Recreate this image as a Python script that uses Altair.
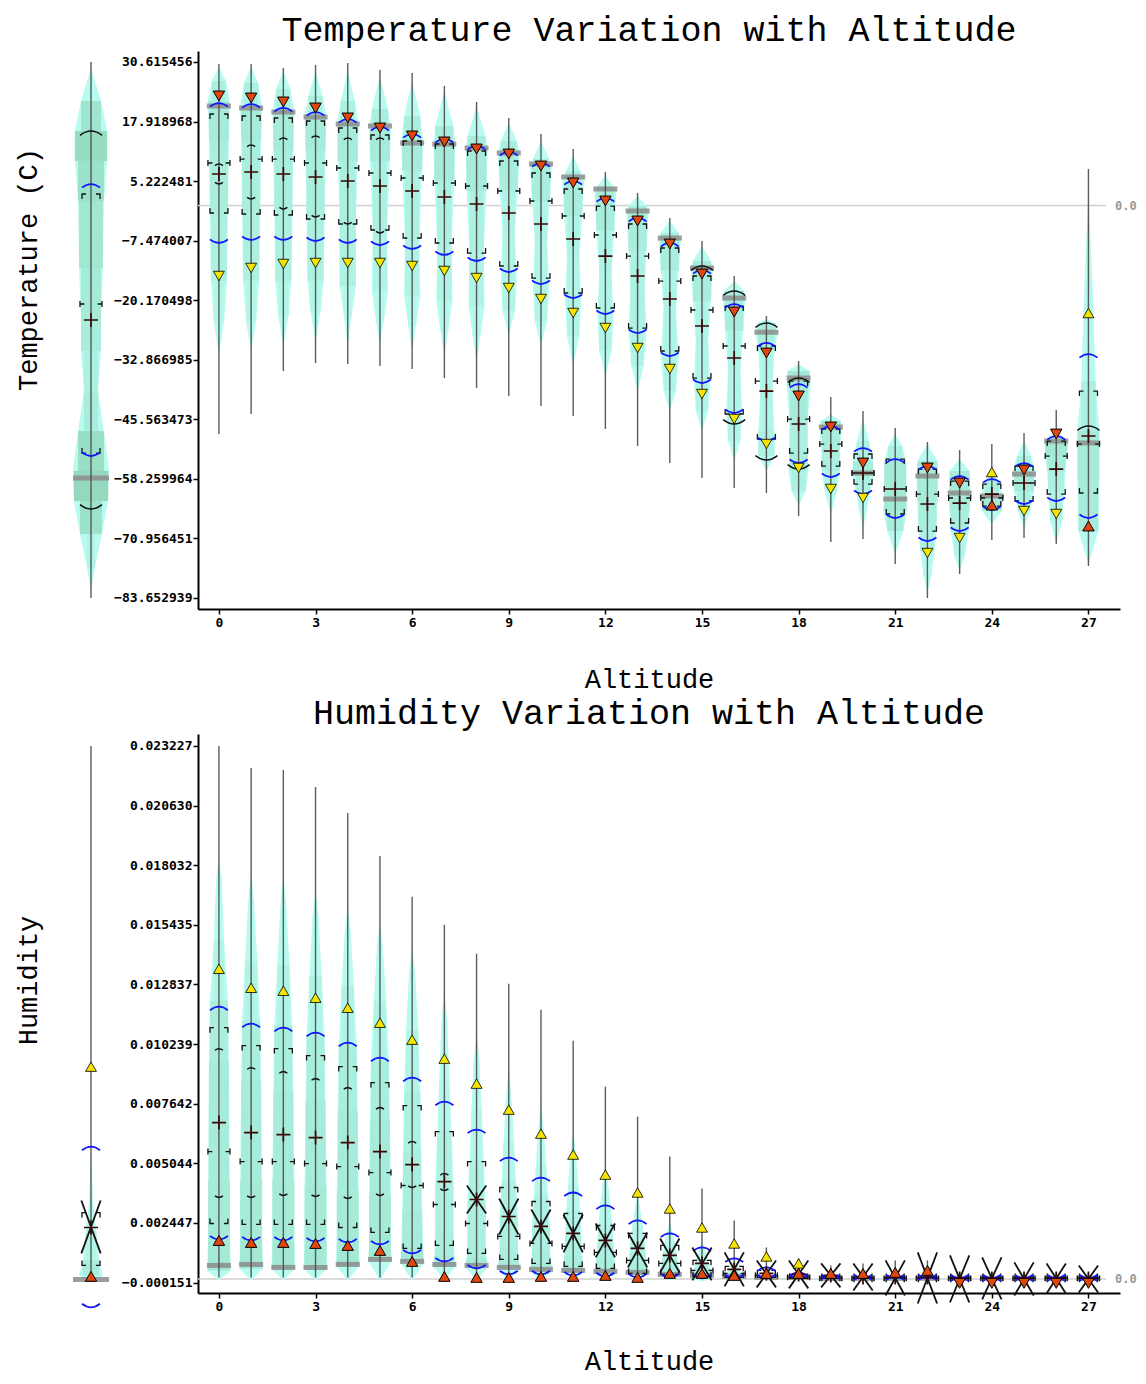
import altair as alt
import pandas as pd

ALTITUDE = list(range(28))
X_TICKS = [0, 3, 6, 9, 12, 15, 18, 21, 24, 27]
T_TICKS = [-83.652939, -70.956451, -58.259964, -45.563473, -32.866985,
           -20.170498, -7.474007, 5.222481, 17.918968, 30.615456]
H_TICKS = [-0.000151, 0.002447, 0.005044, 0.007642, 0.010239,
           0.012837, 0.015435, 0.018032, 0.020630, 0.023227]

# ---------------- Temperature (per altitude) ----------------
T_MAX = [30.19, 30.19, 29.34, 29.97, 30.40, 28.91, 28.27, 25.50, 22.09, 18.68,
         15.26, 12.07, 7.16, 2.69, -2.64, -7.55, -15.01, -23.54, -33.13, -40.81,
         -43.79, -47.42, -50.40, -52.11, -50.83, -48.48, -43.58, 7.80]
T_MIN = [-48.70, -44.43, -35.26, -33.56, -33.77, -34.20, -34.84, -36.76, -38.89, -40.59,
         -42.73, -44.86, -47.63, -51.25, -54.88, -58.08, -60.21, -61.27, -66.18, -71.72,
         -71.08, -76.41, -83.66, -78.54, -71.29, -70.87, -72.15, -76.84]
T_MODE = [21.23, 20.81, 19.95, 18.89, 17.40, 16.97, 13.35, 13.13, 12.28, 11.21,
          8.87, 6.10, 3.54, -1.15, -6.91, -13.30, -19.70, -27.00, -36.76, -47.20,
          -57.01, -62.55, -57.65, -61.27, -61.91, -57.22, -50.19, -50.61]
T_ORANGE = [23.37, 22.94, 22.09, 20.81, 18.68, 16.54, 14.84, 13.56, 12.07, 11.00,
            8.44, 4.82, 0.98, -3.28, -8.19, -14.58, -22.69, -31.43, -40.59, -47.20,
            -54.88, None, -55.94, -59.14, -63.83, -56.37, -48.70, -68.31]
T_ODIR = ["down", "down", "down", "down", "down", "down", "down", "down", "down", "down",
          "down", "down", "down", "down", "down", "down", "down", "down", "down", "down",
          "down", "down", "down", "down", "up", "down", "down", "up"]
T_YELLOW = [-15.01, -13.30, -12.45, -12.24, -12.24, -12.24, -12.88, -13.94, -15.44, -17.57,
            -19.91, -22.90, -26.10, -30.36, -34.84, -40.17, -45.50, -50.83, -55.94, -60.42,
            -62.34, None, -74.07, -70.87, -56.80, -65.11, -65.75, -22.90]
T_YDIR = T_ODIR
T_BLUE_HI = [21.87, 21.66, 20.81, 19.95, 18.46, 16.76, 15.26, 14.20, 12.71, 11.43,
             9.08, 5.24, 1.62, -2.64, -7.97, -13.73, -20.98, -29.29, -38.04, -46.99,
             -51.68, -54.03, -55.52, -57.65, -58.29, -54.88, -49.12, -31.64]
T_BLUE_LO = [-7.97, -7.33, -7.33, -7.55, -7.97, -8.40, -9.25, -10.53, -11.81, -14.16,
             -16.72, -19.70, -23.11, -27.16, -32.07, -37.82, -44.22, -50.19, -54.88, -57.86,
             -61.49, -66.60, -71.51, -69.38, -64.90, -63.62, -62.98, -66.60]
T_Q3 = [19.53, 19.10, 18.68, 18.04, 16.54, 15.05, 13.77, 13.13, 11.64, 9.51,
        6.95, 3.54, -0.09, -3.92, -9.04, -15.01, -21.41, -29.93, -37.40, -47.63,
        -52.96, -54.03, -56.16, -58.72, -59.36, -55.52, -50.19, -39.53]
T_Q1 = [-1.58, -1.79, -2.00, -2.86, -3.92, -5.20, -6.91, -7.97, -10.11, -12.88,
        -15.44, -18.63, -21.83, -26.10, -31.00, -36.76, -44.43, -49.76, -52.75, -55.52,
        -59.36, -65.75, -69.38, -67.67, -64.05, -62.98, -61.49, -61.27]
T_TEE = [9.08, 9.93, 9.93, 9.08, 8.02, 6.95, 5.88, 4.82, 4.18, 3.11,
         0.98, -2.22, -6.27, -10.75, -16.08, -22.26, -29.93, -37.40, -45.50, -50.83,
         -57.01, -60.42, -61.49, -62.34, -62.34, -59.14, -53.39, -50.83]
T_MED = [6.74, 7.16, 6.74, 6.10, 5.24, 4.18, 3.11, 1.83, 0.34, -1.58,
         -3.92, -7.12, -10.75, -15.01, -19.91, -25.67, -32.49, -39.53, -46.56, -52.32,
         -57.01, -60.42, -63.62, -63.41, -61.49, -59.14, -56.16, -49.12]
T_ARC_HI = [8.87, 12.92, 14.41, 14.84, 14.41, 14.41, None, None, None, None,
            None, None, None, None, None, -12.88, -18.21, -25.03, -36.76, None,
            None, None, None, None, None, None, None, -46.99]
T_ARC_LO = [4.60, 1.41, -0.73, -2.43, -3.92, -5.84, None, None, None, None,
            None, None, None, None, None, None, -46.56, -54.24, -56.16, None,
            None, None, None, None, None, None, None, None]
T_NOTCH_HI = [None, None, None, None, None, None, None, None, None, None,
              None, None, None, None, None, None, None, None, None, None,
              None, None, None, None, None, None, None, None]
T_NOTCH_LO = [None, None, None, None, None, None, None, None, None, None,
              None, None, None, None, None, None, None, None, None, None,
              None, None, None, None, None, None, None, None]
# violin outline knots: (temperature, half width in altitude units)
T_SHAPES = [
    [(29.55, 0), (26.56, .22), (22.30, .34), (13.77, .31), (-1.15, .28), (-16.08, .25), (-24.60, .16), (-32.07, 0)],
    [(29.55, 0), (26.14, .22), (21.23, .34), (13.77, .31), (-1.15, .28), (-16.08, .25), (-24.60, .16), (-31.00, 0)],
    [(28.70, 0), (24.86, .22), (20.17, .34), (11.64, .31), (-1.15, .28), (-16.08, .25), (-23.54, .16), (-29.93, 0)],
    [(28.70, 0), (23.37, .22), (19.10, .34), (11.64, .31), (-2.22, .28), (-16.08, .25), (-22.47, .16), (-28.87, 0)],
    [(28.70, 0), (22.30, .22), (17.40, .34), (9.51, .31), (-3.28, .25), (-17.14, .25), (-23.54, .12), (-29.93, 0)],
    [(27.63, 0), (20.59, .25), (16.54, .34), (9.51, .31), (-5.42, .22), (-18.21, .25), (-24.60, .12), (-29.93, 0)],
    [(26.56, 0), (19.10, .25), (13.77, .34), (7.38, .31), (-7.55, .22), (-19.27, .25), (-25.67, .12), (-31.00, 0)],
    [(24.43, 0), (16.97, .28), (13.13, .34), (5.24, .31), (-8.61, .22), (-20.34, .25), (-26.74, .12), (-32.07, 0)],
    [(21.23, 0), (14.84, .28), (12.07, .34), (3.11, .31), (-9.68, .22), (-21.41, .25), (-27.80, .12), (-33.13, 0)],
    [(17.61, 0), (13.77, .25), (11.21, .34), (3.11, .28), (-5.42, .19), (-16.08, .25), (-22.47, .19), (-27.80, 0)],
    [(13.77, 0), (9.93, .25), (8.44, .34), (0.98, .28), (-7.55, .19), (-18.21, .25), (-24.60, .19), (-29.93, 0)],
    [(10.57, 0), (7.38, .22), (5.24, .34), (-2.22, .28), (-10.75, .19), (-20.34, .25), (-27.80, .19), (-34.20, 0)],
    [(6.31, 0), (4.18, .25), (3.11, .34), (-5.42, .28), (-13.94, .19), (-23.54, .25), (-31.00, .19), (-36.33, 0)],
    [(2.05, 0), (-0.09, .28), (-1.58, .34), (-9.68, .28), (-18.21, .22), (-26.74, .28), (-34.20, .19), (-39.53, 0)],
    [(-3.28, 0), (-5.84, .28), (-7.55, .34), (-13.94, .28), (-22.47, .19), (-32.07, .28), (-39.53, .19), (-43.79, 0)],
    [(-8.61, 0), (-11.81, .28), (-13.52, .34), (-20.34, .28), (-28.87, .19), (-37.40, .25), (-43.79, .19), (-48.06, 0)],
    [(-16.08, 0), (-18.21, .31), (-20.34, .34), (-26.74, .28), (-35.26, .19), (-43.79, .25), (-50.19, .19), (-54.45, 0)],
    [(-24.18, 0), (-25.03, .28), (-27.38, .34), (-31.00, .25), (-39.53, .19), (-48.06, .25), (-53.39, .25), (-56.58, 0)],
    [(-33.77, 0), (-35.26, .34), (-38.46, .37), (-45.92, .28), (-52.32, .28), (-56.58, .31), (-60.85, .22), (-64.05, 0)],
    [(-44.43, 0), (-45.92, .31), (-48.06, .34), (-52.32, .28), (-56.58, .28), (-60.85, .19), (-66.18, 0)],
    [(-45.50, 0), (-50.19, .19), (-54.45, .31), (-57.65, .34), (-60.85, .22), (-65.11, .12), (-68.74, 0)],
    [(-48.70, 0), (-51.25, .22), (-54.45, .34), (-60.85, .34), (-65.11, .37), (-69.38, .25), (-74.28, 0)],
    [(-50.83, 0), (-54.45, .31), (-57.65, .34), (-62.98, .31), (-69.38, .28), (-73.64, .22), (-78.97, .12), (-82.59, 0)],
    [(-54.03, 0), (-56.58, .31), (-60.85, .34), (-65.11, .31), (-69.38, .28), (-74.71, .16), (-77.90, 0)],
    [(-56.58, 0), (-58.72, .22), (-61.91, .34), (-65.11, .31), (-67.88, 0)],
    [(-50.19, 0), (-53.39, .22), (-56.58, .34), (-60.85, .31), (-65.11, .19), (-68.74, 0)],
    [(-48.06, 0), (-50.19, .37), (-53.39, .34), (-56.58, .28), (-60.85, .25), (-67.24, .19), (-71.93, 0)],
    [(3.11, 0), (-16.08, .12), (-37.40, .22), (-48.06, .34), (-58.72, .34), (-69.38, .31), (-76.41, 0)],
]
# overall temperature distribution (left margin)
TM = dict(max=30.62, min=-83.66, mode=-58.08, orange=None, odir="down", yellow=None, ydir="down",
          blue_hi=4.60, blue_lo=-53.39, q3=2.47, q1=-52.75, tee=-20.98, med=-24.39,
          arc_hi=15.90, arc_lo=-64.69, notch_hi=None, notch_lo=None)
TM_SHAPE = [(29.34, 0), (22.30, .31), (15.90, .50), (9.51, .50), (0.98, .40), (-13.30, .37),
            (-24.60, .31), (-31.00, .31), (-39.53, .22), (-48.06, .40), (-56.58, .56),
            (-62.98, .53), (-70.02, .34), (-77.26, .12), (-82.17, 0)]

# ---------------- Humidity (per altitude) ----------------
H_MAX = [0.023227, 0.022269, 0.022182, 0.021442, 0.020310, 0.018438, 0.016654, 0.015435, 0.014172, 0.012866,
         0.011735, 0.010386, 0.008384, 0.007078, 0.005337, 0.003945, 0.002552, 0.001377, 0.000899, 0.000594,
         0.000681, 0.000812, 0.000812, 0.000290, 0.000290, 0.000290, 0.000290, 0.000290]
H_MIN = [0.000072, 0.000072, 0.000072, 0.000072, 0.000072, 0.000072, 0.000072, 0.000072, 0.000072, 0.000072,
         0.000072, 0.000072, 0.000072, 0.000029, 0.000029, 0.000029, -0.000015, -0.000015, -0.000015, -0.000015,
         -0.000015, -0.000058, -0.000145, -0.000189, -0.000189, -0.000189, -0.000189, -0.000189]
H_MODE = [0.000594, 0.000638, 0.000507, 0.000507, 0.000638, 0.000855, 0.000768, 0.000638, 0.000594, 0.000507,
          0.000420, 0.000377, 0.000333, 0.000290, 0.000203, 0.000159, 0.000116, 0.000072, 0.000072, 0.000029,
          0.000029, 0.000029, 0.000029, 0.000029, 0.000029, 0.000029, 0.000029, 0.000029]
H_ORANGE = [0.001682, 0.001595, 0.001595, 0.001551, 0.001464, 0.001247, 0.000768, 0.000116, 0.000072, 0.000072,
            0.000116, 0.000116, 0.000159, 0.000072, 0.000246, 0.000246, 0.000159, 0.000246, 0.000246, 0.000246,
            0.000246, 0.000290, 0.000377, -0.000189, -0.000189, -0.000189, -0.000189, -0.000189]
H_ODIR = ["up", "up", "up", "up", "up", "up", "up", "up", "up", "up",
          "up", "up", "up", "up", "up", "up", "up", "up", "up", "up",
          "up", "up", "up", "down", "down", "down", "down", "down"]
H_YELLOW = [0.013519, 0.012692, 0.012562, 0.012257, 0.011822, 0.011169, 0.010430, 0.009603, 0.008515, 0.007383,
            0.006338, 0.005424, 0.004551, 0.003771, 0.003074, 0.002247, 0.001551, 0.000986, 0.000681, None,
            None, None, None, None, None, None, None, None]
H_YDIR = ["up", "up", "up", "up", "up", "up", "up", "up", "up", "up",
          "up", "up", "up", "up", "up", "up", "up", "up", "up", "up",
          "up", "up", "up", "up", "up", "up", "up", "up"]
H_BLUE_HI = [0.011865, 0.011126, 0.010952, 0.010734, 0.010299, 0.009646, 0.008776, 0.007731, 0.006512, 0.005293,
             0.004423, 0.003771, 0.003205, 0.002552, 0.001986, 0.001377, 0.000899, 0.000507, 0.000290, 0.000159,
             0.000116, 0.000116, 0.000116, 0.000072, 0.000072, 0.000072, 0.000072, 0.000072]
H_BLUE_LO = [0.001725, 0.001682, 0.001682, 0.001638, 0.001595, 0.001508, 0.001116, 0.000768, 0.000464, 0.000203,
             0.000203, 0.000159, 0.000116, 0.000072, 0.000072, 0.000029, 0.000029, 0.000029, 0.000029, 0.000029,
             0.000029, 0.000029, 0.000029, 0.000029, 0.000029, 0.000029, 0.000029, 0.000029]
H_Q3 = [0.010952, 0.010169, 0.010038, 0.009733, 0.009255, 0.008558, 0.007557, 0.006425, 0.005119, 0.003988,
        0.003379, 0.002857, 0.002334, 0.001986, 0.001464, 0.000812, 0.000551, 0.000377, 0.000203, 0.000116,
        0.000072, 0.000072, 0.000072, 0.000072, 0.000072, 0.000072, 0.000072, 0.000072]
H_Q1 = [0.002421, 0.002378, 0.002378, 0.002378, 0.002247, 0.002030, 0.001334, 0.001464, 0.001116, 0.000855,
        0.000681, 0.000551, 0.000464, 0.000246, 0.000203, 0.000116, 0.000072, 0.000072, 0.000029, 0.000029,
        0.000029, 0.000029, 0.000029, 0.000029, 0.000029, 0.000029, 0.000029, 0.000029]
H_TEE = [0.005555, 0.005119, 0.005119, 0.005032, 0.004902, 0.004641, 0.004075, 0.003248, 0.002421, 0.001856,
         0.001551, 0.001421, 0.001160, 0.000812, 0.000681, 0.000377, 0.000246, 0.000159, 0.000072, 0.000029,
         0.000029, 0.000029, 0.000029, 0.000029, 0.000029, 0.000029, 0.000029, 0.000029]
H_MED = [0.006817, 0.006382, 0.006295, 0.006164, 0.005946, 0.005555, 0.004989, 0.004249, 0.003466, 0.002726,
         0.002291, 0.001986, 0.001682, 0.001334, 0.001029, 0.000681, 0.000420, 0.000246, 0.000203, 0.000159,
         0.000072, 0.000072, 0.000072, 0.000029, 0.000029, 0.000029, 0.000029, 0.000029]
H_ARC_HI = [0.010038, 0.009211, 0.009037, 0.008732, 0.008341, 0.007470, 0.005990, 0.004597, None, None,
            None, None, None, None, None, None, None, None, None, None,
            None, None, None, None, None, None, None, None]
H_ARC_LO = [0.003553, 0.003553, 0.003640, 0.003596, 0.003509, 0.003640, 0.003988, 0.003858, None, None,
            None, None, None, None, None, None, None, None, None, None,
            None, None, None, None, None, None, None, None]
H_NOTCH_HI = [None, None, None, None, None, None, None, None, 0.004075, 0.003509,
              0.003030, 0.002813, 0.002421, 0.002030, 0.001769, 0.001377, 0.001160, 0.000812, 0.000812, 0.000681,
              0.000681, 0.000812, 0.001160, 0.001029, 0.000942, 0.000725, 0.000681, 0.000594]
H_NOTCH_LO = [None, None, None, None, None, None, None, None, 0.002857, 0.001943,
              0.001551, 0.001160, 0.000942, 0.000507, 0.000290, -0.000058, -0.000319, -0.000363, -0.000406, -0.000363,
              -0.000499, -0.000717, -0.001065, -0.001022, -0.000891, -0.000717, -0.000630, -0.000586]
H_SHAPES = [
    [(0.018438, 0), (0.017350, .09), (0.014738, .16), (0.012126, .28), (0.009514, .31), (0.004290, .34), (0.001682, .34), (0.000377, .37), (-0.000058, 0)],
    [(0.017785, 0), (0.016479, .09), (0.013867, .19), (0.011256, .28), (0.008644, .31), (0.004290, .34), (0.001682, .34), (0.000464, .37), (-0.000058, 0)],
    [(0.017568, 0), (0.016262, .09), (0.013650, .19), (0.011038, .28), (0.008209, .31), (0.004290, .34), (0.001682, .34), (0.000464, .37), (-0.000058, 0)],
    [(0.016915, 0), (0.015826, .09), (0.013214, .19), (0.010603, .28), (0.007773, .31), (0.004075, .34), (0.001682, .34), (0.000464, .37), (-0.000058, 0)],
    [(0.016262, 0), (0.015174, .09), (0.012779, .19), (0.010169, .28), (0.007338, .31), (0.003858, .34), (0.001682, .34), (0.000594, .37), (-0.000058, 0)],
    [(0.015609, 0), (0.014520, .09), (0.012126, .19), (0.009514, .28), (0.006902, .31), (0.003640, .34), (0.001464, .34), (0.000812, .37), (-0.000058, 0)],
    [(0.014520, 0), (0.013432, .09), (0.010820, .19), (0.008209, .25), (0.005596, .28), (0.002987, .31), (0.001464, .34), (0.000725, .37), (-0.000058, 0)],
    [(0.012562, 0), (0.011256, .09), (0.008644, .16), (0.006467, .22), (0.004290, .28), (0.002117, .28), (0.001029, .31), (0.000594, .37), (-0.000058, 0)],
    [(0.010820, 0), (0.009514, .09), (0.007338, .16), (0.005161, .22), (0.003420, .28), (0.001682, .28), (0.000942, .31), (0.000551, .37), (-0.000058, 0)],
    [(0.009297, 0), (0.007773, .09), (0.006032, .16), (0.004290, .22), (0.002769, .28), (0.001464, .28), (0.000812, .31), (0.000464, .37), (-0.000058, 0)],
    [(0.007773, 0), (0.006467, .09), (0.004944, .16), (0.003640, .22), (0.002334, .28), (0.001247, .28), (0.000725, .31), (0.000377, .37), (-0.000058, 0)],
    [(0.006467, 0), (0.005379, .09), (0.004075, .16), (0.002987, .22), (0.001899, .25), (0.001029, .28), (0.000594, .31), (0.000333, .34), (-0.000058, 0)],
    [(0.004944, 0), (0.004075, .09), (0.003205, .16), (0.002334, .22), (0.001551, .25), (0.000899, .28), (0.000551, .31), (0.000290, .34), (-0.000058, 0)],
    [(0.003640, 0), (0.002987, .09), (0.002334, .16), (0.001682, .22), (0.001160, .25), (0.000725, .28), (0.000464, .31), (0.000246, .34), (-0.000058, 0)],
    [(0.002552, 0), (0.002030, .09), (0.001551, .16), (0.001160, .22), (0.000812, .25), (0.000551, .28), (0.000333, .31), (0.000159, .34), (-0.000058, 0)],
    [(0.001682, 0), (0.001247, .09), (0.000942, .16), (0.000681, .22), (0.000464, .25), (0.000290, .28), (0.000159, .31), (0.000029, .31), (-0.000102, 0)],
    [(0.000899, 0), (0.000638, .09), (0.000420, .16), (0.000246, .22), (0.000116, .25), (-0.000015, .25), (-0.000102, 0)],
    [(0.000551, 0), (0.000333, .09), (0.000159, .16), (0.000029, .22), (-0.000102, 0)],
    [(0.000290, 0), (0.000116, .09), (-0.000015, .12), (-0.000102, 0)],
    [(0.000290, 0), (0.000116, .09), (-0.000015, .12), (-0.000102, 0)],
    [(0.000290, 0), (0.000116, .09), (-0.000015, .12), (-0.000102, 0)],
    [(0.000290, 0), (0.000116, .09), (-0.000015, .12), (-0.000102, 0)],
    [(0.000290, 0), (0.000116, .09), (-0.000015, .12), (-0.000102, 0)],
    [(0.000290, 0), (0.000116, .09), (-0.000015, .12), (-0.000102, 0)],
    [(0.000290, 0), (0.000116, .09), (-0.000015, .12), (-0.000102, 0)],
    [(0.000290, 0), (0.000116, .09), (-0.000015, .12), (-0.000102, 0)],
    [(0.000290, 0), (0.000116, .09), (-0.000015, .12), (-0.000102, 0)],
    [(0.000290, 0), (0.000116, .09), (-0.000015, .12), (-0.000102, 0)],
]
HM = dict(max=0.023227, min=-0.000058, mode=-0.000015, orange=0.000116, odir="up", yellow=0.009255, ydir="up",
          blue_hi=0.005770, blue_lo=-0.001233, q3=0.002897, q1=0.000594, tee=None, med=0.002247,
          arc_hi=None, arc_lo=None, notch_hi=0.003420, notch_lo=0.001116)
HM_SHAPE = [(0.006032, 0), (0.003420, .06), (0.002117, .16), (0.000812, .25), (0.000159, .37), (-0.000145, 0)]

# ---------------- styling ----------------
Q3_PATH = "M-1,0.55L-1,0L-0.55,0M0.55,0L1,0L1,0.55"
Q1_PATH = "M-1,-0.55L-1,0L-0.55,0M0.55,0L1,0L1,-0.55"
TEE_PATH = "M-1,-0.27L-1,0.27M-1,0L-0.6,0M0.6,0L1,0M1,-0.27L1,0.27"
PLUS_PATH = "M-1,0L1,0M0,-1L0,1"
CAP_PATH = "M-1,0.4Q0,-0.4,1,0.4"
CUP_PATH = "M-1,-0.4Q0,0.4,1,-0.4"
YEL_DOWN = "M-0.42,-1L0.42,-1L0,1Z"
YEL_UP = "M0,-1L0.42,1L-0.42,1Z"
MONO = "DejaVu Sans Mono"
TFONT = "Liberation Mono"

AX = dict(grid=False, domainColor="black", domainWidth=2, tickColor="black", tickWidth=1.5,
          tickSize=5, labelFont=MONO, labelFontWeight="bold", labelFontSize=13, labelColor="black")


def frame(alts, cols):
    df = pd.DataFrame({"alt": alts})
    for k, v in cols.items():
        if k in ("odir", "ydir"):
            df[k] = v
        else:
            df[k] = pd.Series(v, dtype="float64")
    return df


def panel(stats, shapes, xdom, ydom, w, h, xaxis, yaxis, arc_big, band_px, zero_line, title=None):
    xs = alt.Scale(domain=xdom, nice=False, zero=False)
    ys = alt.Scale(domain=ydom, nice=False, zero=False)

    def X(f):
        return alt.X(f"{f}:Q", scale=xs, axis=xaxis)

    def Y(f):
        return alt.Y(f"{f}:Q", scale=ys, axis=yaxis)

    env_rows, band_rows = [], []
    for a, knots in zip(stats["alt"], shapes):
        for v, hw in knots:
            env_rows.append(dict(alt=a, v=v, lo=a - hw, hi=a + hw))
        for (v0, h0), (v1, h1) in zip(knots[:-1], knots[1:]):
            m = min(h0, h1)
            if m > 0:
                band_rows.append(dict(alt=a, v0=v0, v1=v1, lo=a - m, hi=a + m, c=(h0 + h1) / 2))
    env = pd.DataFrame(env_rows).sort_values(["alt", "v"])
    bands = pd.DataFrame(band_rows)

    layers = []
    if zero_line:
        z = pd.DataFrame({"z": [0.0]})
        layers.append(alt.Chart(z).mark_rule(color="#cfcfcf", strokeWidth=1.5).encode(
            y=Y("z"), x=alt.value(0), x2=alt.value(908)))
        layers.append(alt.Chart(z).mark_text(text="0.0", align="left", baseline="middle", font=MONO,
                                             fontWeight="bold", fontSize=12, color="#9a9a9a").encode(
            y=Y("z"), x=alt.value(917)))
    layers.append(alt.Chart(env).mark_area(orient="horizontal", color="#b8fbf0", opacity=1).encode(
        y=Y("v"), x=X("lo"), x2=alt.X2("hi"), detail=alt.Detail("alt:N")))
    layers.append(alt.Chart(bands).mark_rect(opacity=0.9).encode(
        x=X("lo"), x2=alt.X2("hi"), y=Y("v0"), y2=alt.Y2("v1"),
        color=alt.Color("c:Q", scale=alt.Scale(domain=[0.15, 0.55], range=["#b8fbf0", "#90d4b6"], clamp=True),
                        legend=None)))
    base = alt.Chart(stats)

    def flt(col):
        return base.transform_filter(f"isValid(datum.{col})")

    layers.append(flt("mode").mark_tick(orient="horizontal", thickness=5, size=band_px,
                                        color="#8c8c8c", opacity=0.85).encode(x=X("alt"), y=Y("mode")))
    layers.append(base.mark_rule(color="#4a4a4a", strokeWidth=1.4, opacity=0.9).encode(
        x=X("alt"), y=Y("min"), y2=alt.Y2("max")))

    def pt(col, path, size, color, sw):
        return flt(col).mark_point(shape=path, size=size, filled=False, color=color,
                                   strokeWidth=sw, opacity=1).encode(x=X("alt"), y=Y(col))

    layers.append(pt("q3", Q3_PATH, 324, "#111111", 1.3))
    layers.append(pt("q1", Q1_PATH, 324, "#111111", 1.3))
    layers.append(pt("tee", TEE_PATH, 484, "#111111", 1.3))
    layers.append(pt("blue_hi", CAP_PATH, 324, "#1414ff", 1.7))
    layers.append(pt("blue_lo", CUP_PATH, 324, "#1414ff", 1.7))
    for col, path in (("arc_hi", CAP_PATH), ("arc_lo", CUP_PATH)):
        layers.append(flt(col).mark_point(shape=path, filled=False, color="#111111", strokeWidth=1.5,
                                          opacity=1).encode(
            x=X("alt"), y=Y(col),
            size=alt.condition(arc_big, alt.value(484), alt.value(64))))
    nb = flt("notch_hi").transform_calculate(xa="datum.alt - 0.3", xb="datum.alt + 0.3")
    layers.append(nb.mark_rule(color="#111111", strokeWidth=1.8).encode(
        x=X("xa"), x2=alt.X2("xb"), y=Y("notch_hi"), y2=alt.Y2("notch_lo")))
    layers.append(nb.mark_rule(color="#111111", strokeWidth=1.8).encode(
        x=X("xa"), x2=alt.X2("xb"), y=Y("notch_lo"), y2=alt.Y2("notch_hi")))
    layers.append(pt("med", PLUS_PATH, 196, "#3a0606", 1.7))
    layers.append(flt("orange").mark_point(filled=True, size=130, fill="#e0470f", stroke="black",
                                           strokeWidth=1, opacity=1).encode(
        x=X("alt"), y=Y("orange"),
        shape=alt.Shape("odir:N", scale=alt.Scale(domain=["down", "up"],
                                                   range=["triangle-down", "triangle-up"]), legend=None)))
    layers.append(flt("yellow").mark_point(filled=True, size=120, fill="#f4e400", stroke="black",
                                           strokeWidth=0.8, opacity=1).encode(
        x=X("alt"), y=Y("yellow"),
        shape=alt.Shape("ydir:N", scale=alt.Scale(domain=["down", "up"], range=[YEL_DOWN, YEL_UP]),
                        legend=None)))
    ch = alt.layer(*layers).properties(width=w, height=h)
    if title is not None:
        ch = ch.properties(title=alt.TitleParams(text=title, font=TFONT, fontSize=35, fontWeight="normal",
                                                 color="black", anchor="middle", dx=-10, offset=3.5))
    return ch


def stats_main(mx, mn, mode, orange, odir, yellow, ydir, bhi, blo, q3, q1, tee, med, ahi, alo, nhi, nlo):
    return frame(ALTITUDE, dict(max=mx, min=mn, mode=mode, orange=orange, odir=odir, yellow=yellow,
                                ydir=ydir, blue_hi=bhi, blue_lo=blo, q3=q3, q1=q1, tee=tee, med=med,
                                arc_hi=ahi, arc_lo=alo, notch_hi=nhi, notch_lo=nlo))


def stats_margin(d):
    return frame([0], {k: [v] for k, v in d.items()})


T_DOM = [-86.0, 32.96]
H_DOM = [-0.000608, 0.023749]
X_DOM = [-0.65, 27.98]
M_DOM = [-0.621, 0.621]


def x_axis(title_y):
    return alt.Axis(values=X_TICKS, format="d", title="Altitude", titleFont=TFONT, titleFontSize=27,
                    titleFontWeight="normal", titleColor="black", titleX=451, titleY=title_y,
                    titleBaseline="middle", titleAlign="center", titleAngle=0, labelPadding=2, **AX)


def y_axis(ticks):
    return alt.Axis(values=ticks, format=".6f", title=None, labelPadding=1, **AX)


def margin_axis(title, ty):
    return alt.Axis(title=title, labels=False, ticks=False, domain=False, grid=False, titleFont=TFONT,
                    titleFontSize=27, titleFontWeight="normal", titleColor="black", titleX=-43,
                    titleY=ty, titleAngle=270, titleBaseline="middle", titleAlign="center")


t_stats = stats_main(T_MAX, T_MIN, T_MODE, T_ORANGE, T_ODIR, T_YELLOW, T_YDIR, T_BLUE_HI, T_BLUE_LO,
                     T_Q3, T_Q1, T_TEE, T_MED, T_ARC_HI, T_ARC_LO, T_NOTCH_HI, T_NOTCH_LO)
h_stats = stats_main(H_MAX, H_MIN, H_MODE, H_ORANGE, H_ODIR, H_YELLOW, H_YDIR, H_BLUE_HI, H_BLUE_LO,
                     H_Q3, H_Q1, H_TEE, H_MED, H_ARC_HI, H_ARC_LO, H_NOTCH_HI, H_NOTCH_LO)

t_main = panel(t_stats, T_SHAPES, X_DOM, T_DOM, 922, 558, x_axis(70), y_axis(T_TICKS),
               "datum.alt >= 15", 24, True, "Temperature Variation with Altitude")
t_left = panel(stats_margin(TM), [TM_SHAPE], M_DOM, T_DOM, 40, 558, None,
               margin_axis("Temperature (C)", 218), "datum.alt >= 0", 36, False)
h_main = panel(h_stats, H_SHAPES, X_DOM, H_DOM, 922, 559, x_axis(68), y_axis(H_TICKS),
               "datum.alt >= 15", 24, True, "Humidity Variation with Altitude")
h_left = panel(stats_margin(HM), [HM_SHAPE], M_DOM, H_DOM, 40, 559, None,
               margin_axis("Humidity", 246), "datum.alt >= 0", 36, False)

chart = alt.concat(
    t_left, t_main, h_left, h_main,
    columns=2, spacing={"row": 125, "column": 87}, bounds="flush",
).properties(
    padding={"left": 5, "top": 4, "right": 0, "bottom": 2}
).configure_view(stroke=None)

chart.save("out.html", embed_options={"renderer": "svg", "actions": False})
